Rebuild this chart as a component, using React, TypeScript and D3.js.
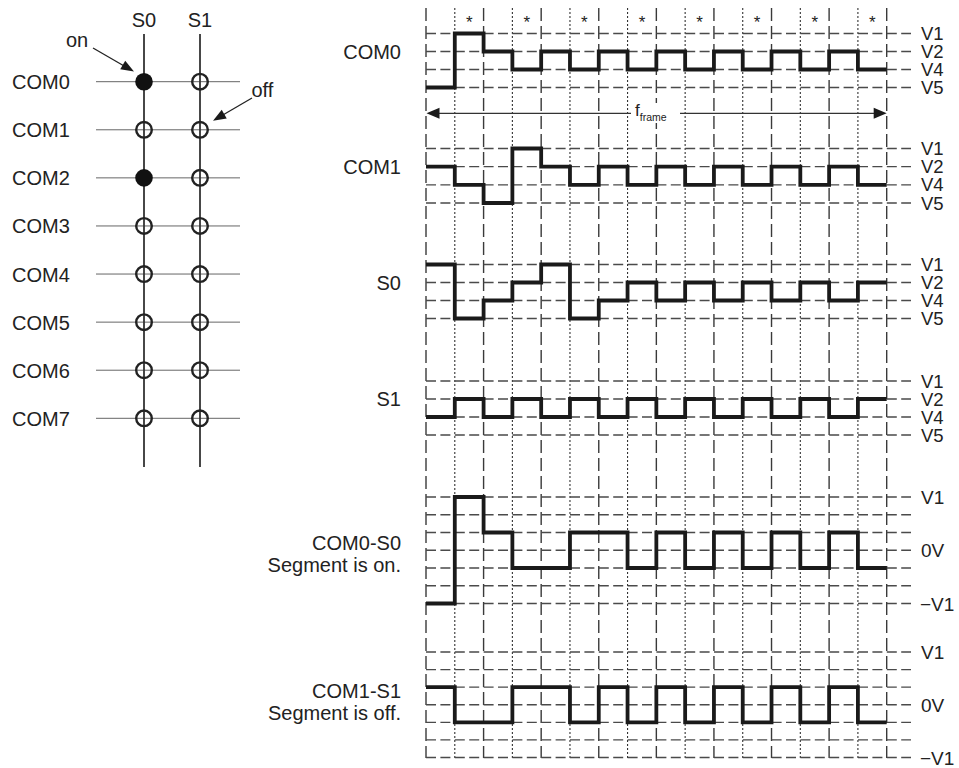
import React from "react";
import * as d3 from "d3";

// ---------- data ----------
const matrixRows = ["COM0", "COM1", "COM2", "COM3", "COM4", "COM5", "COM6", "COM7"];
const matrixCols = ["S0", "S1"];
const onCells = [
  ["COM0", "S0"],
  ["COM2", "S0"],
];

const levelNames = ["V1", "V2", "V4", "V5"];
const com0Wave = ["V5", "V1", "V2", "V4", "V2", "V4", "V2", "V4", "V2", "V4", "V2", "V4", "V2", "V4", "V2", "V4"];
const com1Wave = ["V2", "V4", "V5", "V1", "V2", "V4", "V2", "V4", "V2", "V4", "V2", "V4", "V2", "V4", "V2", "V4"];
const s0Wave = ["V1", "V5", "V4", "V2", "V1", "V5", "V4", "V2", "V4", "V2", "V4", "V2", "V4", "V2", "V4", "V2"];
const s1Wave = ["V4", "V2", "V4", "V2", "V4", "V2", "V4", "V2", "V4", "V2", "V4", "V2", "V4", "V2", "V4", "V2"];

const diffLevels = [3, 2, 1, 0, -1, -2, -3];
const diffLabels = [
  { v: 3, t: "V1" },
  { v: 0, t: "0V" },
  { v: -3, t: "\u2212V1" },
];
const com0s0Wave = [-3, 3, 1, -1, -1, 1, 1, -1, 1, -1, 1, -1, 1, -1, 1, -1];
const com1s1Wave = [1, -1, -1, 1, 1, -1, 1, -1, 1, -1, 1, -1, 1, -1, 1, -1];

const slots = d3.range(17); // 16 half-period slots, 17 boundaries
const starSlots = [1, 3, 5, 7, 9, 11, 13, 15];

// ---------- layout ----------
const FONT = "'Liberation Sans', Arial, Helvetica, sans-serif";
const x = d3.scaleLinear().domain([0, 16]).range([426, 886.7]);
const gridRight = 911;
const labelX = 921;
const nameRight = 401;

const topBlocks = [
  { name: "COM0", data: com0Wave, top: 33.5, bottom: 87.5 },
  { name: "COM1", data: com1Wave, top: 148.5, bottom: 203 },
  { name: "S0", data: s0Wave, top: 264.5, bottom: 318.5 },
  { name: "S1", data: s1Wave, top: 381, bottom: 435 },
];
const diffBlocks = [
  { lines: ["COM0-S0", "Segment is on."], data: com0s0Wave, top: 497, bottom: 603.5, textY: 550 },
  { lines: ["COM1-S1", "Segment is off."], data: com1s1Wave, top: 652, bottom: 757.5, textY: 698 },
];

const rowY = d3.scalePoint().domain(matrixRows).range([81.7, 418.3]);
const colX = d3.scalePoint().domain(matrixCols).range([144, 200]);

function stepPath(values: number[]): string {
  const pts: [number, number][] = values.map((v, i) => [i, v]);
  pts.push([values.length, values[values.length - 1]]);
  return d3
    .line<[number, number]>()
    .x((d) => x(d[0]))
    .y((d) => d[1])
    .curve(d3.curveStepAfter)(pts) as string;
}

function Arrowhead({ tip, from, len = 13, half = 5 }: { tip: [number, number]; from: [number, number]; len?: number; half?: number }) {
  const dx = tip[0] - from[0];
  const dy = tip[1] - from[1];
  const L = Math.hypot(dx, dy);
  const ux = dx / L;
  const uy = dy / L;
  const bx = tip[0] - ux * len;
  const by = tip[1] - uy * len;
  const px = -uy;
  const py = ux;
  const pts = [
    [tip[0], tip[1]],
    [bx + px * half, by + py * half],
    [bx - px * half, by - py * half],
  ];
  return <polygon points={pts.map((p) => p.join(",")).join(" ")} fill="#1a1a1a" />;
}

export default function App() {
  return (
    <svg
      width={959}
      height={768}
      style={{ position: "absolute", left: 0, top: 0, background: "#fff" }}
      fontFamily={FONT}
    >
      <rect x={0} y={0} width={959} height={768} fill="#fff" />

      {/* ---------- left matrix ---------- */}
      <g>
        {matrixRows.map((r) => (
          <g key={r}>
            <line x1={96} x2={240} y1={rowY(r)} y2={rowY(r)} stroke="#666" strokeWidth={1} />
            <text x={12} y={(rowY(r) as number) + 7.5} fontSize={20} fill="#222">
              {r}
            </text>
          </g>
        ))}
        {matrixCols.map((c) => (
          <g key={c}>
            <line x1={colX(c)} x2={colX(c)} y1={34} y2={467} stroke="#333" strokeWidth={1.8} />
            <text x={colX(c)} y={26.5} fontSize={20} textAnchor="middle" fill="#222">
              {c}
            </text>
          </g>
        ))}
        {matrixRows.map((r) =>
          matrixCols.map((c) => {
            const on = onCells.some((p) => p[0] === r && p[1] === c);
            return (
              <circle
                key={r + c}
                cx={colX(c)}
                cy={rowY(r)}
                r={on ? 8.8 : 7.8}
                fill={on ? "#111" : "none"}
                stroke="#222"
                strokeWidth={on ? 0 : 2.4}
              />
            );
          })
        )}
        <text x={66} y={46.5} fontSize={20} fill="#222">
          on
        </text>
        <line x1={93} y1={48} x2={125} y2={66.5} stroke="#222" strokeWidth={1.3} />
        <Arrowhead tip={[134, 71.5]} from={[93, 48]} />
        <text x={251.5} y={97} fontSize={20} fill="#222">
          off
        </text>
        <line x1={252} y1={98} x2={222} y2={115.5} stroke="#222" strokeWidth={1.3} />
        <Arrowhead tip={[213, 120.7]} from={[252, 98]} />
      </g>

      {/* ---------- vertical grid ---------- */}
      <g>
        {slots.map((i) => (
          <line
            key={i}
            x1={x(i)}
            x2={x(i)}
            y1={8}
            y2={758}
            stroke={i % 2 === 0 ? "#3a3a3a" : "#333"}
            strokeWidth={i % 2 === 0 ? 1.4 : 1.1}
            strokeDasharray={i % 2 === 0 ? "13,5" : "2,2"}
          />
        ))}
        {starSlots.map((i) => (
          <text key={i} x={x(i + 0.5)} y={28} fontSize={17} textAnchor="middle" fill="#222">
            *
          </text>
        ))}
      </g>

      {/* ---------- top waveforms ---------- */}
      {topBlocks.map((b) => {
        const y = d3.scalePoint().domain(levelNames).range([b.top, b.bottom]);
        return (
          <g key={b.name}>
            {levelNames.map((l) => (
              <g key={l}>
                <line
                  x1={x(0)}
                  x2={gridRight}
                  y1={y(l)}
                  y2={y(l)}
                  stroke="#4a4a4a"
                  strokeWidth={1.4}
                  strokeDasharray="10,4.4"
                />
                <text x={labelX} y={(y(l) as number) + 6.5} fontSize={18.5} fill="#222">
                  {l}
                </text>
              </g>
            ))}
            <path
              d={stepPath(b.data.map((v) => y(v) as number))}
              fill="none"
              stroke="#1a1a1a"
              strokeWidth={3.8}
              strokeLinejoin="miter"
              strokeLinecap="butt"
            />
            <text x={nameRight} y={(y("V2") as number) + 7} fontSize={20} textAnchor="end" fill="#222">
              {b.name}
            </text>
          </g>
        );
      })}

      {/* ---------- frame arrow ---------- */}
      <g>
        <line x1={436} x2={878} y1={113.3} y2={113.3} stroke="#333" strokeWidth={1.3} />
        <Arrowhead tip={[426.5, 113.3]} from={[886, 113.3]} len={13} half={5.5} />
        <Arrowhead tip={[886.7, 113.3]} from={[426, 113.3]} len={13} half={5.5} />
        <rect x={631} y={103} width={49} height={20} fill="#fff" />
        <text x={635} y={116} fontSize={17} fill="#222">
          f
          <tspan dy={4.5} fontSize={10.5}>
            frame
          </tspan>
        </text>
      </g>

      {/* ---------- difference waveforms ---------- */}
      {diffBlocks.map((b, bi) => {
        const y = d3.scaleLinear().domain([3, -3]).range([b.top, b.bottom]);
        return (
          <g key={bi}>
            {diffLevels.map((l) => (
              <line
                key={l}
                x1={x(0)}
                x2={gridRight}
                y1={y(l)}
                y2={y(l)}
                stroke="#4a4a4a"
                strokeWidth={1.4}
                strokeDasharray="10,4.4"
              />
            ))}
            {diffLabels.map((d) => (
              <text key={d.t} x={d.v < 0 ? labelX - 1 : labelX} y={y(d.v) + 7} fontSize={19} fill="#222">
                {d.t}
              </text>
            ))}
            <path
              d={stepPath(b.data.map((v) => y(v)))}
              fill="none"
              stroke="#1a1a1a"
              strokeWidth={3.8}
              strokeLinejoin="miter"
              strokeLinecap="butt"
            />
            <text x={nameRight} y={b.textY} fontSize={20} textAnchor="end" fill="#222">
              {b.lines[0]}
            </text>
            <text x={nameRight} y={b.textY + 22} fontSize={20} textAnchor="end" fill="#222">
              {b.lines[1]}
            </text>
          </g>
        );
      })}
    </svg>
  );
}
